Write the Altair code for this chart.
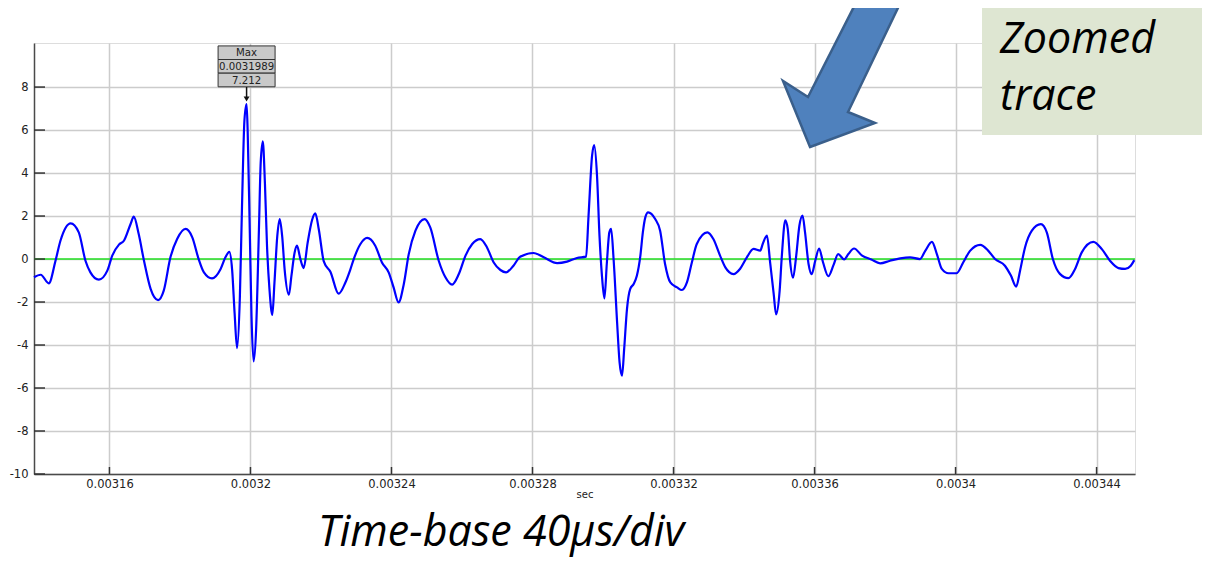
import altair as alt
import pandas as pd

# ---- trace (time in microseconds, amplitude) ----
time_us = [
    3138.6, 3140.5, 3142.8, 3144.7, 3146.1, 3149.0, 3151.3, 3153.2, 3154.6, 3157.0,
    3159.4, 3160.8, 3162.7, 3164.1, 3166.0, 3166.9, 3168.3, 3169.8, 3171.7, 3173.8,
    3175.4, 3177.3, 3179.2, 3181.6, 3183.5, 3185.3, 3186.8, 3189.1, 3191.5, 3192.9,
    3194.0, 3194.8, 3195.5, 3196.2, 3197.0, 3197.6, 3198.3, 3198.9, 3199.2, 3199.8,
    3200.3, 3200.9, 3201.6, 3202.4, 3202.9, 3203.5, 3204.1, 3204.7, 3205.4, 3206.2,
    3206.8, 3207.6, 3208.3, 3209.0, 3209.7, 3210.9, 3211.6, 3212.5, 3213.2, 3214.2,
    3215.1, 3216.2, 3217.5, 3218.4, 3219.4, 3220.8, 3222.7, 3225.0, 3226.9, 3228.3,
    3229.3, 3231.2, 3233.1, 3235.4, 3237.3, 3239.2, 3240.6, 3242.0, 3243.5, 3244.9,
    3246.8, 3249.4, 3251.0, 3253.4, 3255.3, 3257.2, 3259.1, 3261.0, 3262.9, 3265.2,
    3267.1, 3269.0, 3270.9, 3272.5, 3274.6, 3276.5, 3280.3, 3283.2, 3287.0, 3289.8,
    3292.6, 3295.2, 3295.9, 3296.9, 3297.5, 3298.3, 3299.0, 3299.7, 3300.4, 3301.1,
    3301.8, 3302.3, 3303.0, 3304.0, 3304.7, 3305.4, 3306.0, 3306.8, 3307.7, 3308.7,
    3309.6, 3310.6, 3311.3, 3312.0, 3312.8, 3314.8, 3316.2, 3317.6, 3319.1, 3321.0,
    3322.4, 3323.8, 3325.2, 3326.6, 3329.6, 3331.3, 3333.2, 3334.7, 3337.0, 3338.9,
    3340.8, 3342.7, 3344.6, 3345.3, 3346.5, 3347.4, 3348.4, 3349.1, 3350.1, 3350.7,
    3351.7, 3352.4, 3353.1, 3353.9, 3354.8, 3355.7, 3356.6, 3357.3, 3358.3, 3359.2,
    3360.2, 3361.3, 3362.4, 3363.9, 3365.4, 3366.7, 3368.4, 3369.6, 3371.2, 3373.5,
    3376.1, 3378.6, 3381.4, 3384.3, 3387.1, 3389.9, 3391.4, 3393.3, 3394.7, 3396.1,
    3398.0, 3400.3, 3402.2, 3404.1, 3407.0, 3409.3, 3411.2, 3414.0, 3415.7, 3417.2,
    3418.3, 3419.7, 3421.6, 3424.2, 3425.9, 3427.6, 3429.6, 3432.0, 3433.9, 3435.8,
    3439.1, 3441.5, 3443.8, 3446.2, 3448.1, 3449.7, 3450.7,
]
amplitude = [
    -0.85, -0.73, -1.13, -0.08, 0.85, 1.66, 1.24, -0.08, -0.62, -0.96,
    -0.54, 0.16, 0.67, 0.85, 1.63, 1.97, 1.16, -0.08, -1.40, -1.91,
    -1.47, 0.08, 0.93, 1.40, 1.01, 0.0, -0.62, -0.90, -0.47, 0.08,
    0.33, -0.5, -2.51, -4.14, -1.74, 2.45, 6.48, 7.212, 6.0, 1.36,
    -2.67, -4.76, -3.29, 1.36, 4.47, 5.47, 3.53, 0.59, -1.43, -2.6,
    -1.12, 1.05, 1.86, 1.05, -0.5, -1.66, -0.81, 0.28, 0.62, -0.03,
    -0.42, 0.74, 1.83, 2.12, 1.36, -0.11, -0.6, -1.61, -1.1, -0.5,
    0.0, 0.70, 0.98, 0.62, -0.16, -0.62, -1.32, -2.02, -1.16, 0.23,
    1.32, 1.86, 1.47, -0.08, -0.85, -1.19, -0.70, 0.16, 0.70, 0.93,
    0.54, -0.16, -0.51, -0.62, -0.31, 0.11, 0.28, 0.08, -0.19, -0.12,
    0.05, 0.11, 2.02, 4.81, 5.30, 3.88, 1.09, -0.78, -1.83, -0.16,
    1.24, 1.40, 0.0, -2.95, -4.81, -5.43, -4.19, -2.33, -1.40, -1.16,
    -0.78, 0.16, 1.24, 1.94, 2.17, 1.86, 1.32, -0.23, -1.09, -1.32,
    -1.44, -1.09, -0.16, 0.70, 1.24, 0.93, 0.16, -0.39, -0.70, -0.45,
    0.08, 0.47, 0.39, 0.70, 1.09, -0.15, -1.6, -2.57, -1.48, 0.08,
    1.8, 1.4, -0.15, -0.87, 0.15, 1.55, 2.02, 1.25, -0.23, -0.70,
    -0.08, 0.49, -0.15, -0.80, -0.27, 0.23, -0.02, 0.23, 0.49, 0.16,
    -0.02, -0.2, -0.08, 0.03, 0.08, 0.0, 0.38, 0.8, 0.23, -0.46,
    -0.66, -0.66, -0.15, 0.38, 0.66, 0.38, 0.0, -0.31, -0.77, -1.28,
    -0.54, 0.54, 1.31, 1.62, 1.23, 0.0, -0.69, -0.89, -0.46, 0.31,
    0.8, 0.46, -0.08, -0.42, -0.46, -0.31, -0.05,
]

x_ticks = [0.00316, 0.0032, 0.00324, 0.00328, 0.00332, 0.00336, 0.0034, 0.00344]
y_ticks = [-10, -8, -6, -4, -2, 0, 2, 4, 6, 8]
x_domain = [0.0031386, 0.0034509]
y_domain = [-10, 10.05]

max_time = 0.0031989
max_value = 7.212
max_labels = ["Max", "0.0031989", "7.212"]

W, H = 1101, 431

trace = pd.DataFrame({"t": [u * 1e-6 for u in time_us], "v": amplitude})
xt = pd.DataFrame({"t": x_ticks})
yt = pd.DataFrame({"v": y_ticks})
peak = pd.DataFrame({"t": [max_time], "v": [max_value]})

xscale = alt.Scale(domain=x_domain, nice=False, zero=False)
yscale = alt.Scale(domain=y_domain, nice=False, zero=False)

axis_common = dict(
    grid=True, gridColor="#CCCCCC", gridWidth=1.5,
    domainColor="#4A4A4A", domainWidth=1.5, ticks=False,
    labelFont="DejaVu Sans", labelFontSize=11.5, labelColor="#222222",
    labelExpr="toString(datum.value)",
)

line = alt.Chart(trace).mark_line(color="#0000FF", strokeWidth=2.2, interpolate="monotone").encode(
    x=alt.X("t:Q", scale=xscale,
            axis=alt.Axis(values=x_ticks, labelPadding=4, title="sec",
                          titleFont="DejaVu Sans", titleFontSize=10, titleFontWeight="normal",
                          titleColor="#222222", titlePadding=0, labelFlush=False, **axis_common)),
    y=alt.Y("v:Q", scale=yscale,
            axis=alt.Axis(values=y_ticks, labelPadding=6, title="", **axis_common)),
)

zero = alt.Chart(peak).mark_rule(color="#22E022", strokeWidth=1.5).encode(
    y=alt.datum(0, scale=yscale), x=alt.value(0), x2=alt.value(W)
)

ytick_marks = alt.Chart(yt).mark_rule(color="#333333", strokeWidth=1.5).encode(
    y=alt.Y("v:Q", scale=yscale), x=alt.value(0), x2=alt.value(11)
)
xtick_marks = alt.Chart(xt).mark_rule(color="#333333", strokeWidth=1.5).encode(
    x=alt.X("t:Q", scale=xscale), y=alt.value(H), y2=alt.value(H - 7)
)

# Max marker box
box_layers = []
row_offsets = [-51.3, -37.7, -24.0]
for lab, off in zip(max_labels, row_offsets):
    box_layers.append(
        alt.Chart(peak).mark_rect(width=57, height=13.6, fill="#C9C9C9", stroke="#333333",
                                  strokeWidth=1, yOffset=off).encode(
            x=alt.X("t:Q", scale=xscale), y=alt.Y("v:Q", scale=yscale))
    )
    box_layers.append(
        alt.Chart(peak).mark_text(text=lab, font="DejaVu Sans", fontSize=10.2, color="#222222",
                                  yOffset=off + 0.5, baseline="middle", align="center").encode(
            x=alt.X("t:Q", scale=xscale), y=alt.Y("v:Q", scale=yscale))
    )
stem = alt.Chart(peak).mark_rule(color="#111111", strokeWidth=1.5, yOffset=-17, y2Offset=-7).encode(
    x=alt.X("t:Q", scale=xscale), y=alt.Y("v:Q", scale=yscale), y2=alt.Y2("v:Q")
)
head = alt.Chart(peak).mark_point(shape="triangle-down", filled=True, color="#111111",
                                  size=35, opacity=1, yOffset=-5).encode(
    x=alt.X("t:Q", scale=xscale), y=alt.Y("v:Q", scale=yscale)
)

# Big blue call-out arrow
arrow_path = "M0,0 L65,-24 L38,-35 L98,-160 L54,-160 L-2,-50 L-27,-66 Z"
arrow = alt.Chart(peak).mark_point(shape=arrow_path, size=4, filled=True, fill="#4F81BD",
                                   stroke="#3A5F8B", strokeWidth=2.5, opacity=1,
                                   fillOpacity=1).encode(
    x=alt.value(776), y=alt.value(104)
)

# "Zoomed trace" note
note_box = alt.Chart(peak).mark_rect(fill="#DEE6D2").encode(
    x=alt.value(948), x2=alt.value(1180), y=alt.value(-40), y2=alt.value(92)
)
note1 = alt.Chart(peak).mark_text(text="Zoomed", font="Open Sans", fontStyle="italic", fontSize=43,
                                  color="#000000", align="left", baseline="alphabetic").encode(
    x=alt.value(966), y=alt.value(10)
)
note2 = alt.Chart(peak).mark_text(text="trace", font="Open Sans", fontStyle="italic", fontSize=43,
                                  color="#000000", align="left", baseline="alphabetic").encode(
    x=alt.value(966), y=alt.value(67)
)
caption = alt.Chart(peak).mark_text(text="Time-base 40µs/div", font="Open Sans", fontStyle="italic",
                                    fontSize=43, color="#000000", align="left",
                                    baseline="alphabetic").encode(
    x=alt.value(284), y=alt.value(503)
)

chart = alt.layer(
    zero, line, ytick_marks, xtick_marks, *box_layers, stem, head,
    arrow, note_box, note1, note2, caption
).properties(
    width=W, height=H,
    autosize=alt.AutoSizeParams(type="none"),
    padding={"left": 26, "top": 35, "right": 67, "bottom": 86},
).configure_view(strokeWidth=0).configure(background="white")

chart.save("out.html", embed_options={"renderer": "svg", "actions": False})
